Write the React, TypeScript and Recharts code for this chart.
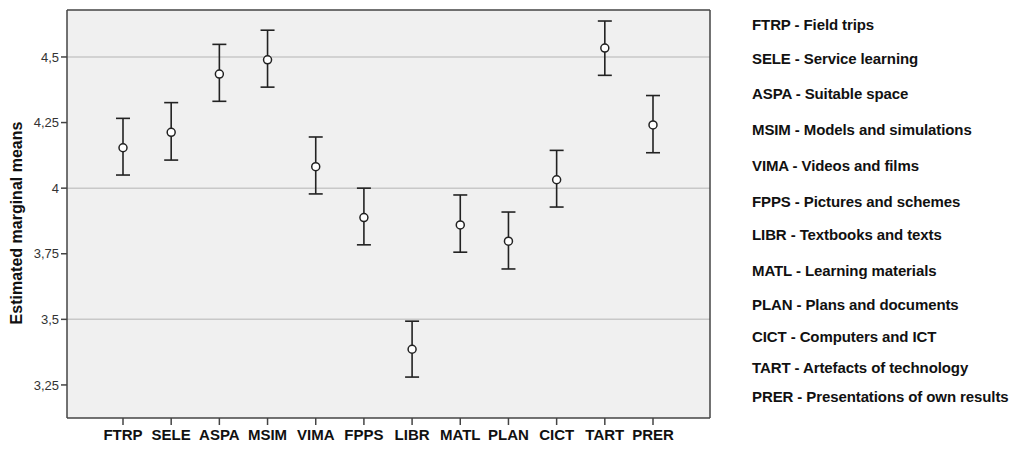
import React from 'react';
import {
  ComposedChart,
  Line,
  XAxis,
  YAxis,
  CartesianGrid,
  ErrorBar,
  ReferenceLine,
} from 'recharts';

// ---------- data ----------
const categories = ['FTRP', 'SELE', 'ASPA', 'MSIM', 'VIMA', 'FPPS', 'LIBR', 'MATL', 'PLAN', 'CICT', 'TART', 'PRER'];
const means = [4.154, 4.213, 4.435, 4.489, 4.082, 3.888, 3.386, 3.86, 3.798, 4.032, 4.534, 4.241];
const lowerCI = [4.05, 4.107, 4.331, 4.385, 3.978, 3.784, 3.28, 3.756, 3.692, 3.928, 4.43, 4.135];
const upperCI = [4.266, 4.326, 4.548, 4.602, 4.195, 4.0, 3.493, 3.974, 3.909, 4.144, 4.637, 4.353];
const yTicks = [3.25, 3.5, 3.75, 4, 4.25, 4.5];
const gridValues = [3.5, 4, 4.5];
const legendLabels = [
  'FTRP - Field trips',
  'SELE - Service learning',
  'ASPA - Suitable space',
  'MSIM - Models and simulations',
  'VIMA - Videos and films',
  'FPPS - Pictures and schemes',
  'LIBR - Textbooks and texts',
  'MATL - Learning materials',
  'PLAN - Plans and documents',
  'CICT - Computers and ICT',
  'TART - Artefacts of technology',
  'PRER - Presentations of own results',
];
const yAxisTitle = 'Estimated marginal means';

// ---------- layout ----------
const legendCenters = [25, 59, 94, 130, 166, 202, 235, 271, 305, 337, 368, 397];
const FONT = "'Liberation Sans', Arial, sans-serif";

const data = categories.map((name, i) => ({
  name,
  mean: means[i],
  err: [means[i] - lowerCI[i], upperCI[i] - means[i]],
}));

const fmt = (v: number) => String(v).replace('.', ',');

export default function App() {
  return (
    <div
      style={{
        position: 'absolute',
        left: 0,
        top: 0,
        width: 1017,
        height: 452,
        background: '#ffffff',
        fontFamily: FONT,
      }}
    >
      <ComposedChart
        width={1017}
        height={452}
        data={data}
        margin={{ top: 9, right: 306, bottom: 4, left: 17 }}
      >
        <CartesianGrid horizontal={false} vertical={false} fill="#f0f0f0" fillOpacity={1} />
        {gridValues.map((v) => (
          <ReferenceLine key={v} y={v} stroke="#c8c8c8" strokeWidth={1.5} />
        ))}
        <XAxis
          dataKey="name"
          height={30}
          padding={{ left: 56, right: 57 }}
          axisLine={{ stroke: '#444', strokeWidth: 1.5 }}
          tickLine={{ stroke: '#444', strokeWidth: 1.5 }}
          tickSize={7}
          tickMargin={4}
          interval={0}
          tick={{ fontSize: 15, fontWeight: 'bold', fill: '#111', fontFamily: FONT }}
        />
        <XAxis
          xAxisId="top"
          dataKey="name"
          orientation="top"
          height={1}
          tick={false}
          tickLine={false}
          axisLine={{ stroke: '#444', strokeWidth: 1.5 }}
        />
        <YAxis
          type="number"
          domain={[3.124, 4.679]}
          allowDataOverflow
          ticks={yTicks}
          tickFormatter={fmt}
          width={50}
          axisLine={{ stroke: '#444', strokeWidth: 1.5 }}
          tickLine={{ stroke: '#444', strokeWidth: 1.5 }}
          tickSize={6}
          tick={{ fontSize: 13, fill: '#333', fontFamily: FONT }}
        />
        <YAxis
          yAxisId="right"
          orientation="right"
          width={1}
          tick={false}
          tickLine={false}
          axisLine={{ stroke: '#444', strokeWidth: 1.5 }}
        />
        <Line
          dataKey="mean"
          stroke="none"
          isAnimationActive={false}
          dot={{ r: 4, fill: '#ffffff', stroke: '#222', strokeWidth: 1.5 }}
          activeDot={false}
        >
          <ErrorBar dataKey="err" direction="y" width={7} stroke="#222" strokeWidth={1.6} />
        </Line>
      </ComposedChart>

      <div
        style={{
          position: 'absolute',
          left: 17,
          top: 223,
          transform: 'translate(-50%, -50%) rotate(-90deg)',
          whiteSpace: 'nowrap',
          fontSize: 16,
          fontWeight: 'bold',
          color: '#111',
          lineHeight: '18px',
        }}
      >
        {yAxisTitle}
      </div>

      {legendLabels.map((t, i) => (
        <div
          key={t}
          style={{
            position: 'absolute',
            left: 752,
            top: legendCenters[i] - 9,
            whiteSpace: 'nowrap',
            fontSize: 15,
            fontWeight: 'bold',
            color: '#111',
            lineHeight: '18px',
            letterSpacing: '-0.1px',
          }}
        >
          {t}
        </div>
      ))}
    </div>
  );
}
